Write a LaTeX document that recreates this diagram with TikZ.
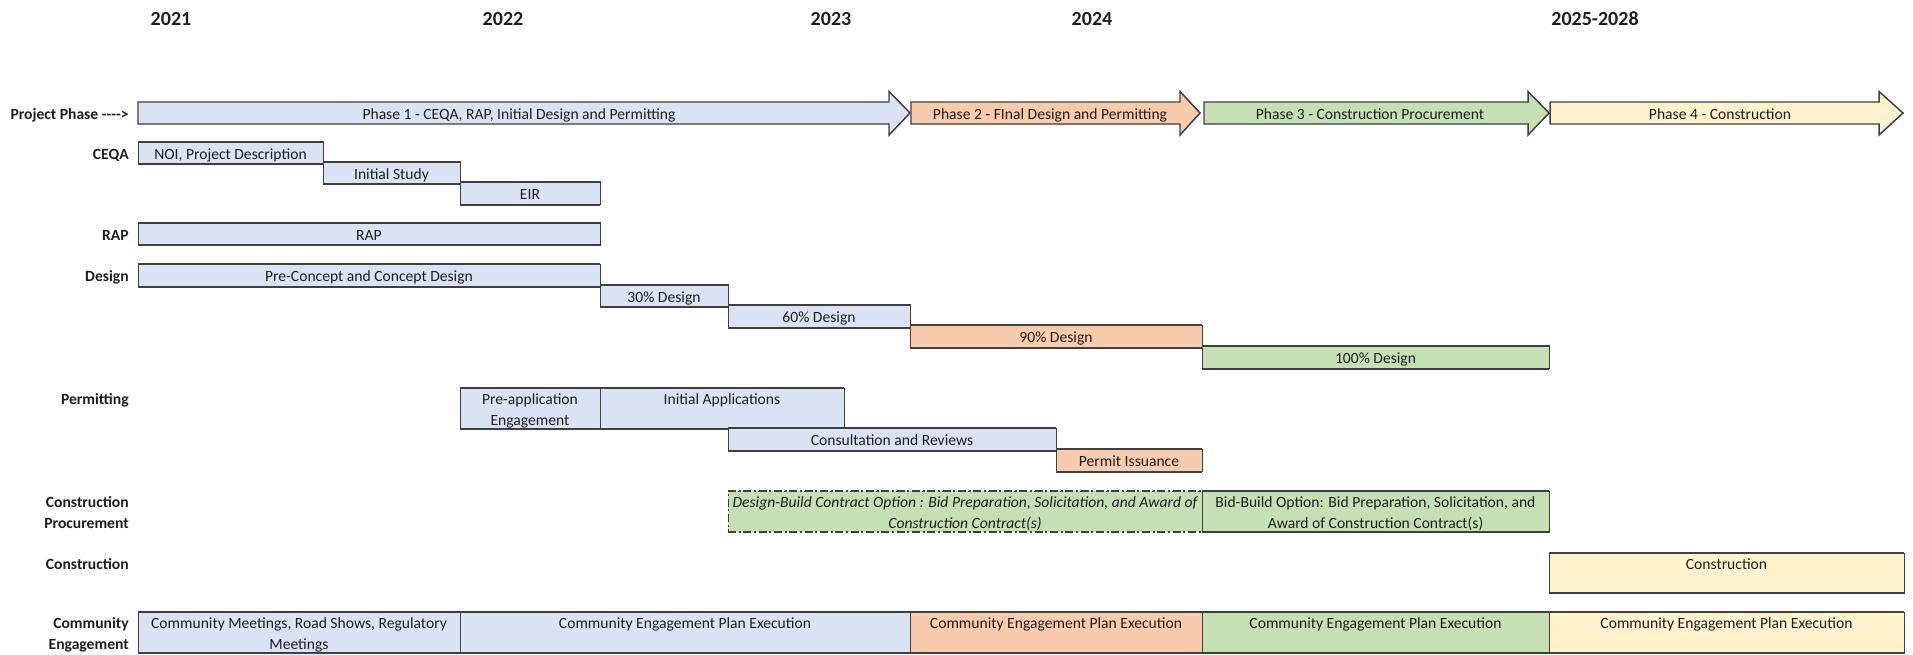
\documentclass[tikz,border=0pt]{standalone}
\usepackage{fontspec}
\setmainfont{Carlito}

\definecolor{pblue}{HTML}{DAE3F3}
\definecolor{porange}{HTML}{F8CBAD}
\definecolor{pgreen}{HTML}{C5E0B4}
\definecolor{pyellow}{HTML}{FFF2CC}
\definecolor{edge}{HTML}{404040}
\definecolor{ink}{HTML}{1E1E1E}

% \task[extra style]{name}{x1}{y1}{x2}{y2}{fill}{text}
% the bar is an empty node; its caption is a second node on top of it
\newcommand\task[8][]{%
  \pgfmathsetmacro\taskw{(#5-#3)*0.75}%
  \pgfmathsetmacro\taskh{(#6-#4)*0.75}%
  \node[taskbox, #1, fill=#7, minimum width=\taskw pt, minimum height=\taskh pt]
    (#2) at ({(#3+#5)/2},{(#4+#6)/2}) {};
  \draw[rule, #1] (#2.north west) -- (#2.north east);
  \draw[rule, #1] (#2.south west) -- (#2.south east);
  \node[tasktext, #1] (#2-t) at (#2.center) {#8};
}

% \phasearrow{name}{x start}{head base}{tip}{fill}{text x}{text}
\newcommand\phasearrow[7]{%
  \draw[phase, fill=#5] (#2,102) -- (#3,102) -- (#3,91.5) -- (#4,113)
    -- (#3,135) -- (#3,124) -- (#2,124) -- cycle;
  \node (#1) at (#6,113) {#7};
}

\newcommand\hy{\mbox{-}}

\begin{document}
\begin{tikzpicture}[x=0.75pt,y=-0.75pt,
  every node/.style={text=ink, font=\fontsize{11.7}{15.3}\selectfont, inner sep=0pt,
    execute at begin node={\rule{0pt}{13pt}},
    execute at end node={\rule[-4pt]{0pt}{4pt}}},
  % two-line captions sit a little lower
  twoline/.style={yshift=-2.7pt},
  taskbox/.style={draw=edge, line width=0.75pt, outer sep=0pt,
    twoline/.style={}, execute at begin node={}, execute at end node={}},
  tasktext/.style={align=center},
  rule/.style={draw=edge, line width=1.5pt, twoline/.style={}},
  dashdot/.style={dash pattern=on 6pt off 2pt on 1.5pt off 2pt},
  rowlab/.style={font=\fontsize{11.7}{15.3}\selectfont\bfseries, anchor=east, align=right},
  yearlab/.style={font=\fontsize{15}{18}\selectfont\bfseries,
    execute at begin node={}, execute at end node={}},
  phase/.style={draw=edge, line width=1.1pt, line join=miter},
]
\useasboundingbox (0,0) rectangle (1913,654);

% year headings
\node[yearlab] (y21) at (171,19) {2021};
\node[yearlab] (y22) at (503,19) {2022};
\node[yearlab] (y23) at (831,19) {2023};
\node[yearlab] (y24) at (1092,19) {2024};
\node[yearlab] (y25) at (1595,19) {2025-2028};

% row headings
\node[rowlab] (lphase) at (129,113) {Project Phase \hy\hy\hy\hy>};
\node[rowlab] (lceqa) at (129,153) {CEQA};
\node[rowlab] (lrap) at (129,234) {RAP};
\node[rowlab] (ldesign) at (129,275.5) {Design};
\node[rowlab] (lpermit) at (129,398) {Permitting};
\node[rowlab, twoline] (lproc) at (129,511.5) {Construction\\Procurement};
\node[rowlab] (lcons) at (129,563) {Construction};
\node[rowlab, twoline] (lcomm) at (129,632.5) {Community\\Engagement};

% project phases
\phasearrow{ph1}{138}{889}{910}{pblue}{519}{Phase 1 - CEQA, RAP, Initial Design and Permitting}
\phasearrow{ph2}{911}{1180}{1200}{porange}{1050}{Phase 2 - FInal Design and Permitting}
\phasearrow{ph3}{1204}{1528}{1549}{pgreen}{1370}{Phase 3 - Construction Procurement}
\phasearrow{ph4}{1550}{1879}{1903}{pyellow}{1720}{Phase 4 - Construction}

% CEQA
\task{noi}{138}{143}{323}{163}{pblue}{NOI, Project Description}
\task{istudy}{323}{163}{460}{183}{pblue}{Initial Study}
\task{eir}{460}{183}{600}{203.5}{pblue}{EIR}

% RAP
\task{rap}{138}{224}{600}{244}{pblue}{RAP}

% Design
\task{precon}{138}{265}{600}{286}{pblue}{Pre-Concept and Concept Design}
\task{d30}{600}{286}{728}{306}{pblue}{30\% Design}
\task{d60}{728}{306}{910}{326.5}{pblue}{60\% Design}
\task{d90}{910}{326.5}{1202}{347}{porange}{90\% Design}
\task{d100}{1202}{347}{1549}{367.5}{pgreen}{100\% Design}

% Permitting
\task[twoline]{preapp}{460}{388}{600}{429}{pblue}{Pre-application\\Engagement}
\task[twoline]{initapp}{600}{388}{844}{429}{pblue}{Initial Applications\\}
\task{consult}{728}{429}{1056}{450}{pblue}{Consultation and Reviews}
\task{permit}{1056}{450}{1202}{471}{porange}{Permit Issuance}

% Construction procurement
\task[dashdot, twoline]{dbuild}{728}{491}{1202}{532}{pgreen}{\itshape Design-Build Contract Option : Bid Preparation, Solicitation, and Award of\\\itshape Construction Contract(s)}
\task[twoline]{bbuild}{1202}{491}{1549}{532}{pgreen}{Bid-Build Option: Bid Preparation, Solicitation, and\\Award of Construction Contract(s)}

% Construction
\task[twoline]{cons}{1549}{553}{1904}{593}{pyellow}{Construction\\}

% Community engagement
\task[twoline]{cmeet}{138}{612}{460}{653}{pblue}{Community Meetings, Road Shows, Regulatory\\Meetings}
\task[twoline]{cep1}{460}{612}{910}{653}{pblue}{Community Engagement Plan Execution\\}
\task[twoline]{cep2}{910}{612}{1202}{653}{porange}{Community Engagement Plan Execution\\}
\task[twoline]{cep3}{1202}{612}{1549}{653}{pgreen}{Community Engagement Plan Execution\\}
\task[twoline]{cep4}{1549}{612}{1904}{653}{pyellow}{Community Engagement Plan Execution\\}
\end{tikzpicture}
\end{document}
